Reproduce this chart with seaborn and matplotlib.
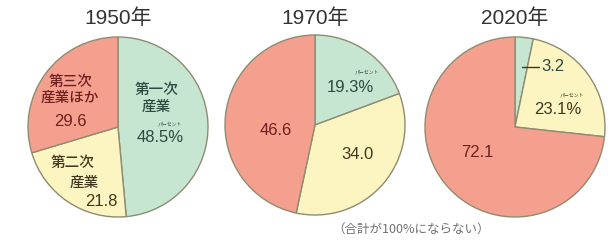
import matplotlib
matplotlib.use("Agg")
import matplotlib.pyplot as plt
import seaborn as sns

# 産業別就業者の割合 (%)
years = ["1950年", "1970年", "2020年"]
sectors = ["第一次産業", "第二次産業", "第三次産業ほか"]
share_1950 = [48.5, 21.8, 29.6]
share_1970 = [19.3, 34.0, 46.6]
share_2020 = [3.2, 23.1, 72.1]
note = "（合計が100%にならない）"

sns.set_theme(style="white")
plt.rcParams["font.family"] = ["Liberation Sans", "Noto Sans CJK JP", "DejaVu Sans"]
jp = ["Noto Sans CJK JP", "DejaVu Sans"]

colors = sns.color_palette(["#c6e6d2", "#fcf5c2", "#f5a08f"])
text_colors = ["#2c4a3f", "#3e3820", "#6e1f1f"]
edge = "#8e8c70"

W, H = 613, 244
R = 90  # pie radius in px
centers = [(118, 127), (315, 125), (515, 127)]
shares = [share_1950, share_1970, share_2020]

# label layout: (sector index, text, dx, dy) in radius units
name_layout = [
    [(0, "第一次\n産業", 0.43, 0.32), (2, "第三次\n産業ほか", -0.53, 0.41),
     (1, "第二次", -0.51, -0.40), (1, "産業", -0.37, -0.62)],
    [],
    [],
]
value_pos = [
    [(0.47, -0.12), (-0.18, -0.83), (-0.53, 0.06)],
    [(0.39, 0.42), (0.47, -0.33), (-0.44, -0.06)],
    [(0.29, 0.67), (0.47, 0.19), (-0.42, -0.28)],
]
percent_idx = [0, 0, 1]   # which wedge carries the "%"
ruby_pos = [(0.58, 0.03), (0.58, 0.59), (0.63, 0.36)]

fig = plt.figure(figsize=(W / 100, H / 100), dpi=100)
pad = 1.03
for k, (cx, cy) in enumerate(centers):
    ax = fig.add_axes([(cx - R * pad) / W, (H - cy - R * pad) / H,
                       2 * R * pad / W, 2 * R * pad / H])
    ax.pie(shares[k], colors=colors, startangle=90, counterclock=False,
           wedgeprops=dict(edgecolor=edge, linewidth=1.0))
    ax.set_xlim(-pad, pad)
    ax.set_ylim(-pad, pad)
    ax.set_aspect("equal")
    ax.axis("off")

    for i, txt, dx, dy in name_layout[k]:
        ax.text(dx, dy, txt, ha="center", va="center", fontsize=10.5,
                family=jp, fontweight="medium",
                color=text_colors[i], linespacing=1.2)

    for i, v in enumerate(shares[k]):
        label = f"{v:.1f}" + ("%" if i == percent_idx[k] else "")
        dx, dy = value_pos[k][i]
        ha = "left" if (k == 2 and i == 0) else "center"
        ax.text(dx, dy, label, ha=ha, va="center", fontsize=12,
                color=text_colors[i])

    rx, ry = ruby_pos[k]
    ax.text(rx, ry, "パーセント", ha="center", va="center", fontsize=3.5,
            family=jp, color=text_colors[percent_idx[k]])

    # leader for the small wedge in 2020
    if k == 2:
        ax.plot([0.08, 0.27], [0.67, 0.67], color="#3e3820", lw=1.0)

    fig.text(cx / W, 1 - 18 / H, years[k], ha="center", va="center",
             fontsize=15, color="#333333")

fig.text(411 / W, 1 - 229 / H, note, ha="center", va="center",
         fontsize=9, family=jp, color="#707070")

fig.savefig("out.png", dpi=100)
